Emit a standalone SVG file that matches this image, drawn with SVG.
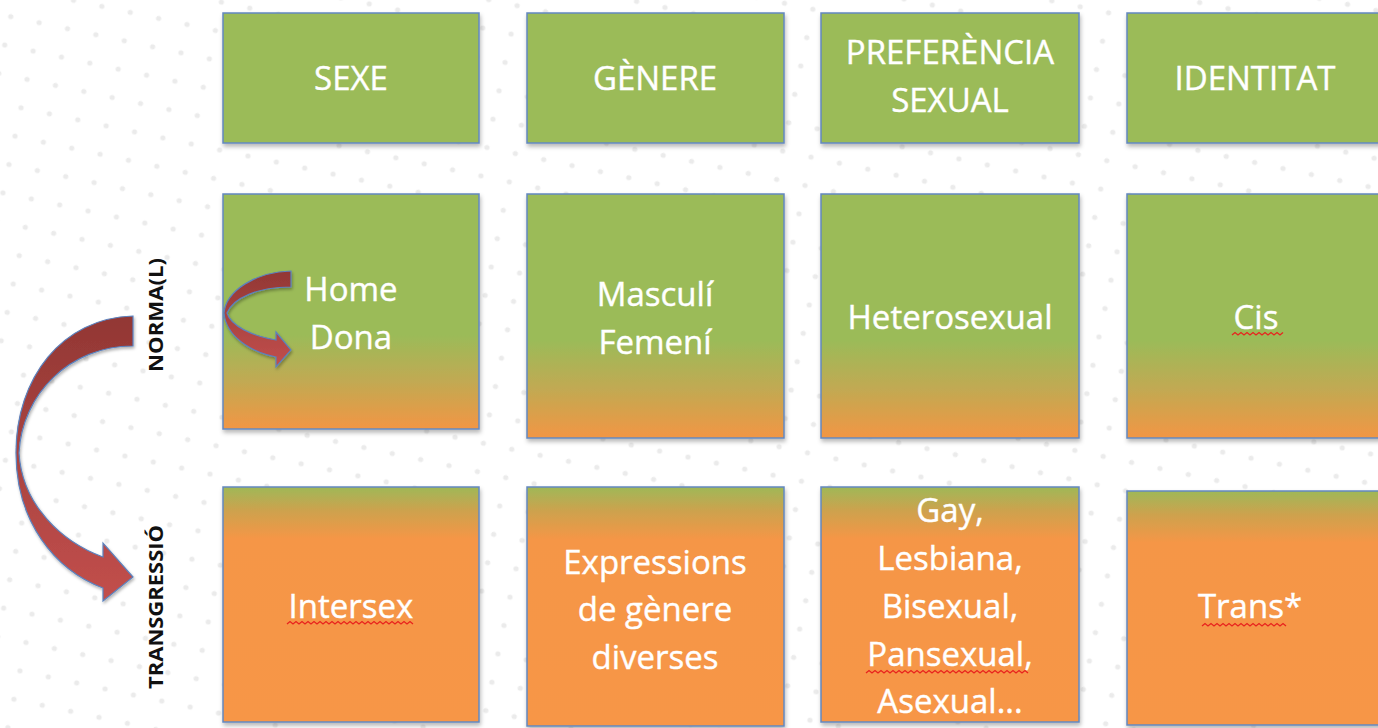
<svg xmlns="http://www.w3.org/2000/svg" width="1378" height="728" viewBox="0 0 1378 728">
<defs>
<pattern id="dots" width="29" height="29" patternUnits="userSpaceOnUse" patternTransform="rotate(12)">
<circle cx="14" cy="14" r="2.6" fill="#EBEBEB"/>
</pattern>
<linearGradient id="g2" x1="0" y1="0" x2="0" y2="1">
<stop offset="0" stop-color="#9BBB59"/>
<stop offset="0.6" stop-color="#9BBB59"/>
<stop offset="0.8" stop-color="#C2A952"/>
<stop offset="1" stop-color="#F29644"/>
</linearGradient>
<linearGradient id="g3" x1="0" y1="0" x2="0" y2="1">
<stop offset="0" stop-color="#9FB857"/>
<stop offset="0.1" stop-color="#CDA24E"/>
<stop offset="0.22" stop-color="#F59646"/>
<stop offset="1" stop-color="#F79646"/>
</linearGradient>
<linearGradient id="ar" x1="0" y1="0" x2="0" y2="1">
<stop offset="0" stop-color="#923734"/>
<stop offset="0.45" stop-color="#A8423F"/>
<stop offset="1" stop-color="#C24F4C"/>
</linearGradient>
<filter id="sh" x="-5%" y="-5%" width="115%" height="115%">
<feDropShadow dx="1" dy="3" stdDeviation="2" flood-color="#000" flood-opacity="0.28"/>
</filter>
<filter id="ash" x="-20%" y="-20%" width="140%" height="140%">
<feDropShadow dx="1" dy="2" stdDeviation="1.5" flood-color="#000" flood-opacity="0.3"/>
</filter>
</defs>
<style>
.box{stroke:#6388C0;stroke-width:1.5;filter:url(#sh);}
.r1{fill:#9BBB59;}
.r2{fill:url(#g2);}
.r3{fill:url(#g3);}
.t{font-family:"Open Sans","Liberation Sans",sans-serif;font-size:33px;fill:#FFFFFF;stroke:#FFFFFF;stroke-width:0.4;text-anchor:middle;}
.v{font-family:"Open Sans","Liberation Sans",sans-serif;font-size:19px;font-weight:bold;fill:#111111;text-anchor:middle;}
.sq{fill:none;stroke:#E8231E;stroke-width:1.3;}
.arr{fill:url(#ar);stroke:#5B82BE;stroke-width:1.2;filter:url(#ash);}
</style>
<rect width="1378" height="728" fill="#FFFFFF"/>
<rect width="1378" height="728" fill="url(#dots)"/>

<g id="sexe"><rect class="box r1" x="223" y="13" width="256" height="130"/><text class="t" x="351" y="90">SEXE</text></g>
<g id="genere"><rect class="box r1" x="527" y="13" width="257" height="130"/><text class="t" x="655" y="90">GÈNERE</text></g>
<g id="preferencia"><rect class="box r1" x="821" y="13" width="258" height="130"/><text class="t" x="950" y="64">PREFERÈNCIA</text><text class="t" x="950" y="112">SEXUAL</text></g>
<g id="identitat"><rect class="box r1" x="1127" y="13" width="258" height="130"/><text class="t" x="1255" y="90">IDENTITAT</text></g>

<g id="home-dona"><rect class="box r2" x="223" y="194" width="256" height="235"/><text class="t" x="351" y="301">Home</text><text class="t" x="351" y="349">Dona</text></g>
<g id="masculi-femeni"><rect class="box r2" x="527" y="194" width="257" height="244"/><text class="t" x="655" y="306">Masculí</text><text class="t" x="655" y="354">Femení</text></g>
<g id="heterosexual"><rect class="box r2" x="821" y="194" width="258" height="244"/><text class="t" x="950" y="329">Heterosexual</text></g>
<g id="cis"><rect class="box r2" x="1127" y="194" width="258" height="244"/><text class="t" x="1256" y="329">Cis</text><path class="sq" d="M1232,335 l3,-2.5 l3,2.5 l3,-2.5 l3,2.5 l3,-2.5 l3,2.5 l3,-2.5 l3,2.5 l3,-2.5 l3,2.5 l3,-2.5 l3,2.5 l3,-2.5 l3,2.5 l3,-2.5 l3,2.5 l3,-2.5"/></g>

<g id="intersex"><rect class="box r3" x="223" y="487" width="256" height="235"/><text class="t" x="351" y="618">Intersex</text><path class="sq" d="M287,624 l3,-2.5 l3,2.5 l3,-2.5 l3,2.5 l3,-2.5 l3,2.5 l3,-2.5 l3,2.5 l3,-2.5 l3,2.5 l3,-2.5 l3,2.5 l3,-2.5 l3,2.5 l3,-2.5 l3,2.5 l3,-2.5 l3,2.5 l3,-2.5 l3,2.5 l3,-2.5 l3,2.5 l3,-2.5 l3,2.5 l3,-2.5 l3,2.5 l3,-2.5 l3,2.5 l3,-2.5 l3,2.5 l3,-2.5 l3,2.5 l3,-2.5 l3,2.5 l3,-2.5 l3,2.5 l3,-2.5 l3,2.5 l3,-2.5 l3,2.5 l3,-2.5 l3,2.5"/></g>
<g id="expressions"><rect class="box r3" x="527" y="487" width="257" height="239"/><text class="t" x="655" y="574">Expressions</text><text class="t" x="655" y="621">de gènere</text><text class="t" x="655" y="669">diverses</text></g>
<g id="orientacions"><rect class="box r3" x="821" y="487" width="258" height="235"/><text class="t" x="950" y="522">Gay,</text><text class="t" x="950" y="570">Lesbiana,</text><text class="t" x="950" y="618">Bisexual,</text><text class="t" x="950" y="666">Pansexual,</text><text class="t" x="950" y="713">Asexual...</text><path class="sq" d="M866,673 l3,-2.5 l3,2.5 l3,-2.5 l3,2.5 l3,-2.5 l3,2.5 l3,-2.5 l3,2.5 l3,-2.5 l3,2.5 l3,-2.5 l3,2.5 l3,-2.5 l3,2.5 l3,-2.5 l3,2.5 l3,-2.5 l3,2.5 l3,-2.5 l3,2.5 l3,-2.5 l3,2.5 l3,-2.5 l3,2.5 l3,-2.5 l3,2.5 l3,-2.5 l3,2.5 l3,-2.5 l3,2.5 l3,-2.5 l3,2.5 l3,-2.5 l3,2.5 l3,-2.5 l3,2.5 l3,-2.5 l3,2.5 l3,-2.5 l3,2.5 l3,-2.5 l3,2.5 l3,-2.5 l3,2.5 l3,-2.5 l3,2.5 l3,-2.5 l3,2.5 l3,-2.5 l3,2.5 l3,-2.5 l3,2.5 l3,-2.5 l3,2.5"/></g>
<g id="trans"><rect class="box r3" x="1127" y="491" width="258" height="234"/><text class="t" x="1250" y="618">Trans*</text><path class="sq" d="M1202,626 l3,-2.5 l3,2.5 l3,-2.5 l3,2.5 l3,-2.5 l3,2.5 l3,-2.5 l3,2.5 l3,-2.5 l3,2.5 l3,-2.5 l3,2.5 l3,-2.5 l3,2.5 l3,-2.5 l3,2.5 l3,-2.5 l3,2.5 l3,-2.5 l3,2.5 l3,-2.5 l3,2.5 l3,-2.5 l3,2.5 l3,-2.5 l3,2.5 l3,-2.5 l3,2.5"/></g>

<g id="labels">
<text class="v" transform="translate(163,315) rotate(-90)" textLength="114" lengthAdjust="spacingAndGlyphs">NORMA(L)</text>
<text class="v" transform="translate(163,607) rotate(-90)" textLength="164" lengthAdjust="spacingAndGlyphs">TRANSGRESSIÓ</text>
</g>

<g id="connectors">
<path class="arr" d="M133,316 C62,318 16,378 16,453 C16,522 55,570 103,588 L103,601 L133,577 L103,543 L103,557 C62,542 22,505 19,453 C22,394 70,346 133,346 Z"/>
<path class="arr" d="M291,271 C255,272 226,291 224,313 C226,336 250,352 276,357 L276,367 L291,350 L276,332 L276,340 C252,336 231,326 227,313 C233,298 258,287 291,287 Z"/>
</g>
</svg>
